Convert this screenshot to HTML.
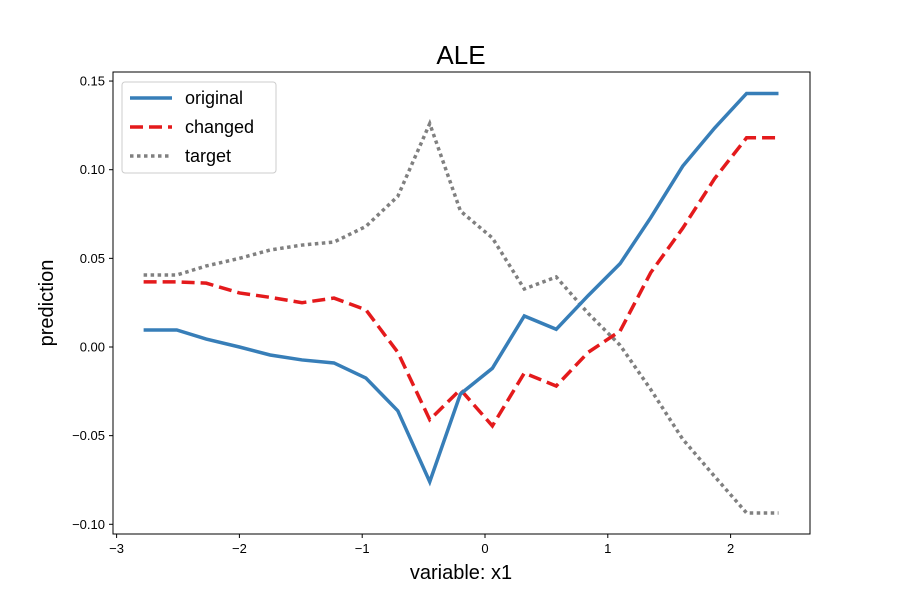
<!DOCTYPE html>
<html><head><meta charset="utf-8"><style>
body{margin:0;background:#fff;}
svg{font-family:"Liberation Sans","DejaVu Sans",sans-serif;}
</style></head><body>
<svg id="chart" width="900" height="600" viewBox="0 0 900 600" xmlns="http://www.w3.org/2000/svg">
<rect width="900" height="600" fill="#fff"/>
<text x="461" y="64" text-anchor="middle" font-size="26">ALE</text>
<g id="plot"></g>
<rect x="113" y="72" width="697" height="462" fill="none" stroke="#000" stroke-width="1"/>
<g id="axes"></g>
<text x="461" y="579" text-anchor="middle" font-size="20">variable: x1</text>
<text transform="translate(53,303) rotate(-90)" text-anchor="middle" font-size="20">prediction</text>
<g>
<rect x="122" y="82" width="154" height="91" rx="3" fill="#fff" fill-opacity="0.8" stroke="#ccc"/>
<line x1="130" y1="98" x2="172" y2="98" stroke="#377eb8" stroke-width="3.5"/>
<text x="185" y="104" font-size="18">original</text>
<line x1="130" y1="127" x2="172" y2="127" stroke="#e41a1c" stroke-width="3.5" stroke-dasharray="13,6"/>
<text x="185" y="133" font-size="18">changed</text>
<line x1="130" y1="156" x2="172" y2="156" stroke="#808080" stroke-width="3.5" stroke-dasharray="3.5,3.5"/>
<text x="185" y="162" font-size="18">target</text>
</g>
</svg>
<script>
const xValues=[-2.78,-2.51,-2.27,-2.0,-1.75,-1.49,-1.23,-0.97,-0.71,-0.45,-0.2,0.06,0.32,0.58,0.84,1.1,1.35,1.61,1.87,2.13,2.39];
const original=[0.0096,0.0096,0.0045,0,-0.0045,-0.0073,-0.009,-0.0175,-0.036,-0.076,-0.0265,-0.012,0.0175,0.010,0.029,0.047,0.073,0.102,0.1235,0.143,0.143];
const changed=[0.0367,0.0367,0.036,0.0305,0.028,0.025,0.0276,0.021,-0.003,-0.041,-0.024,-0.0445,-0.0147,-0.022,-0.003,0.009,0.042,0.067,0.095,0.118,0.118];
const target=[0.0406,0.0406,0.0457,0.050,0.0547,0.0575,0.0592,0.068,0.085,0.126,0.0767,0.0615,0.0327,0.0395,0.019,0.001,-0.024,-0.052,-0.073,-0.0936,-0.0936];
const xTicks=[-3,-2,-1,0,1,2];
const xTickLabels=["\u22123","\u22122","\u22121","0","1","2"];
const yTicks=[0.15,0.10,0.05,0,-0.05,-0.10];
const yTickLabels=["0.15","0.10","0.05","0.00","\u22120.05","\u22120.10"];
const NS="http://www.w3.org/2000/svg";
const sx=v=>485+v*122.8;
const sy=v=>347-v*1773;
const plot=document.getElementById('plot'),axes=document.getElementById('axes');
function series(vals,color,dash,name){
  const p=document.createElementNS(NS,'polyline');
  p.setAttribute('points',vals.map((v,i)=>sx(xValues[i])+','+sy(v)).join(' '));
  p.setAttribute('fill','none');p.setAttribute('stroke',color);p.setAttribute('stroke-width','3.5');
  if(dash)p.setAttribute('stroke-dasharray',dash);
  
  
  plot.appendChild(p);
}
series(target,'#808080','3.5,3.5','line-target');
series(changed,'#e41a1c','13,6','line-changed');
series(original,'#377eb8',null,'line-original');
xTicks.forEach((t,i)=>{
  const l=document.createElementNS(NS,'line');
  l.setAttribute('x1',sx(t));l.setAttribute('x2',sx(t));l.setAttribute('y1',534);l.setAttribute('y2',538);l.setAttribute('stroke','#000');
  
  
  axes.appendChild(l);
  const tx=document.createElementNS(NS,'text');
  tx.setAttribute('x',sx(t));tx.setAttribute('y',553);tx.setAttribute('text-anchor','middle');tx.setAttribute('font-size','13');
  tx.textContent=xTickLabels[i];
  
  
  axes.appendChild(tx);
});
yTicks.forEach((t,i)=>{
  const l=document.createElementNS(NS,'line');
  l.setAttribute('x1',109);l.setAttribute('x2',113);l.setAttribute('y1',sy(t));l.setAttribute('y2',sy(t));l.setAttribute('stroke','#000');
  
  
  axes.appendChild(l);
  const tx=document.createElementNS(NS,'text');
  tx.setAttribute('x',105);tx.setAttribute('y',sy(t)+4.5);tx.setAttribute('text-anchor','end');tx.setAttribute('font-size','13');
  tx.textContent=yTickLabels[i];
  
  
  axes.appendChild(tx);
});
</script>
</body></html>
